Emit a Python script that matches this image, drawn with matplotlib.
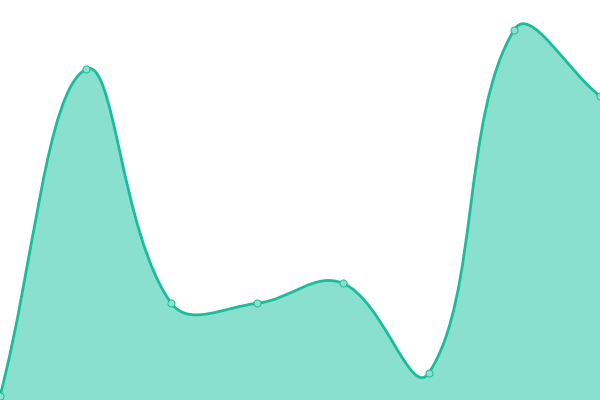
import numpy as np
import matplotlib
matplotlib.use("Agg")
import matplotlib.pyplot as plt
from matplotlib.path import Path
from matplotlib.patches import PathPatch

# data
categories = list(range(8))
values = [4, 330.7, 96.7, 96.7, 116.7, 26.7, 370.3, 304]

line_color = "#1abc9c"
fill_color = "#8ae0cf"
marker_fill = "#8ee0cf"
tension = 0.4

W, H = 600, 400
fig = plt.figure(figsize=(6, 4), dpi=100)
ax = fig.add_axes([0, 0, 1, 1])
xmin, xmax = 0, len(categories) - 1
ymin, ymax = 0, 400
ax.set_xlim(xmin, xmax)
ax.set_ylim(ymin, ymax)
ax.axis("off")

# spline control points in pixel-equivalent space (Chart.js-like)
sx = W / (xmax - xmin)
sy = H / (ymax - ymin)
P = np.column_stack([np.array(categories, float) * sx, np.array(values, float) * sy])
n = len(P)
cp_prev = np.zeros_like(P)
cp_next = np.zeros_like(P)
for i in range(n):
    prev = P[i - 1] if i > 0 else P[i]
    nxt = P[i + 1] if i < n - 1 else P[i]
    cur = P[i]
    d01 = np.hypot(*(cur - prev))
    d12 = np.hypot(*(nxt - cur))
    tot = d01 + d12
    s01 = d01 / tot if tot else 0
    s12 = d12 / tot if tot else 0
    fa = tension * s01
    fb = tension * s12
    cp_prev[i] = cur - fa * (nxt - prev)
    cp_next[i] = cur + fb * (nxt - prev)
cp_prev[:, 0] = np.clip(cp_prev[:, 0], 0, W); cp_prev[:, 1] = np.clip(cp_prev[:, 1], 0, H)
cp_next[:, 0] = np.clip(cp_next[:, 0], 0, W); cp_next[:, 1] = np.clip(cp_next[:, 1], 0, H)

def to_data(p):
    return (p[0] / sx, p[1] / sy)

verts = [to_data(P[0])]
codes = [Path.MOVETO]
for i in range(n - 1):
    verts += [to_data(cp_next[i]), to_data(cp_prev[i + 1]), to_data(P[i + 1])]
    codes += [Path.CURVE4] * 3

line_path = Path(verts, codes)
fill_verts = verts + [(categories[-1], ymin), (categories[0], ymin), verts[0]]
fill_codes = codes + [Path.LINETO, Path.LINETO, Path.CLOSEPOLY]
fill_path = Path(fill_verts, fill_codes)

ax.add_patch(PathPatch(fill_path, facecolor=fill_color, edgecolor="none", zorder=1))
ax.add_patch(PathPatch(line_path, facecolor="none", edgecolor=line_color, lw=2.0, zorder=2,
                       capstyle="round", joinstyle="round"))
ax.scatter(categories, values, s=26, facecolor=marker_fill, edgecolor=line_color,
           linewidth=0.7, zorder=3, clip_on=True)

fig.savefig("out.png", dpi=100)
